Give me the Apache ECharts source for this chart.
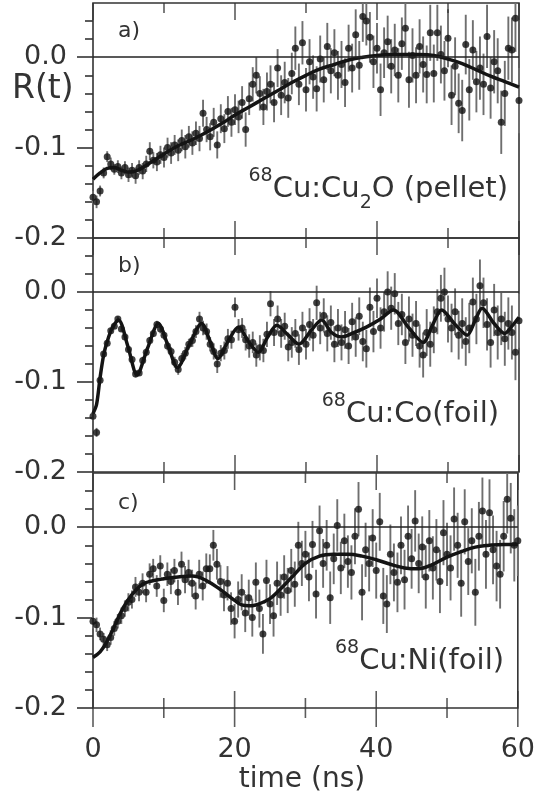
<!DOCTYPE html>
<html><head><meta charset="utf-8">
<script src="https://cdn.jsdelivr.net/npm/echarts@6/dist/echarts.min.js"></script>
<style>html,body{margin:0;padding:0;background:#fff}#c{width:538px;height:798px}</style>
</head><body><div id="c"></div>
<script>
// time axis (ns) of the data points
const times = [0,0.5,1,1.5,2,2.5,3,3.5,4,4.5,5,5.5,6,6.5,7,7.5,8,8.5,9,9.5,10,10.5,11,11.5,12,12.5,13,13.5,14,14.5,15,15.5,16,16.5,17,17.5,18,18.5,19,19.5,20,20.5,21,21.5,22,22.5,23,23.5,24,24.5,25,25.5,26,26.5,27,27.5,28,28.5,29,29.5,30,30.5,31,31.5,32,32.5,33,33.5,34,34.5,35,35.5,36,36.5,37,37.5,38,38.5,39,39.5,40,40.5,41,41.5,42,42.5,43,43.5,44,44.5,45,45.5,46,46.5,47,47.5,48,48.5,49,49.5,50,50.5,51,51.5,52,52.5,53,53.5,54,54.5,55,55.5,56,56.5,57,57.5,58,58.5,59,59.5,60];

// a) 68Cu:Cu2O (pellet)
const dataA = [-0.155,-0.160,-0.148,-0.128,-0.110,-0.118,-0.124,-0.121,-0.128,-0.122,-0.130,-0.125,-0.131,-0.122,-0.126,-0.118,-0.104,-0.114,-0.116,-0.108,-0.111,-0.100,-0.106,-0.097,-0.103,-0.092,-0.099,-0.088,-0.095,-0.084,-0.090,-0.062,-0.080,-0.088,-0.072,-0.097,-0.068,-0.079,-0.060,-0.072,-0.058,-0.066,-0.050,-0.080,-0.046,-0.030,-0.020,-0.040,-0.055,-0.038,-0.030,-0.050,-0.012,-0.042,-0.028,-0.045,-0.018,0.010,-0.030,0.016,-0.036,-0.005,-0.022,-0.035,-0.002,-0.025,0.012,-0.015,0.005,-0.020,-0.008,-0.028,0.010,-0.012,0.025,-0.009,0.045,0.040,0.022,-0.005,0.010,-0.036,0.005,0.017,-0.010,0.008,-0.020,0.015,0.032,-0.025,0.002,-0.020,0.012,-0.008,-0.019,0.027,-0.018,0.027,0.003,-0.015,0.021,-0.042,-0.010,-0.051,-0.059,0.014,-0.036,0.008,-0.027,-0.012,-0.030,0.023,-0.034,-0.005,-0.015,-0.072,-0.040,0.010,0.008,0.043,-0.048];
const errA = [0.007,0.007,0.006,0.006,0.006,0.007,0.006,0.007,0.007,0.007,0.008,0.008,0.009,0.008,0.009,0.009,0.010,0.009,0.010,0.010,0.011,0.011,0.012,0.011,0.012,0.012,0.013,0.012,0.013,0.013,0.014,0.015,0.014,0.015,0.016,0.015,0.016,0.016,0.017,0.016,0.017,0.018,0.018,0.019,0.018,0.019,0.020,0.019,0.020,0.021,0.021,0.022,0.021,0.022,0.023,0.022,0.023,0.024,0.023,0.024,0.024,0.025,0.024,0.025,0.026,0.025,0.026,0.025,0.026,0.027,0.026,0.027,0.026,0.027,0.028,0.027,0.028,0.027,0.028,0.029,0.028,0.029,0.028,0.029,0.030,0.029,0.030,0.029,0.030,0.031,0.030,0.031,0.030,0.031,0.032,0.031,0.032,0.031,0.032,0.033,0.032,0.033,0.032,0.033,0.034,0.033,0.034,0.033,0.034,0.035,0.034,0.035,0.034,0.035,0.036,0.035,0.036,0.035,0.036,0.037,0.036];
const fitA = [[0,-0.135],[1,-0.128],[2,-0.123],[3,-0.122],[4,-0.125],[5,-0.127],[6,-0.126],[7,-0.122],[8,-0.117],[9,-0.112],[10,-0.107],[12,-0.098],[14,-0.091],[16,-0.083],[18,-0.074],[20,-0.064],[22,-0.055],[24,-0.046],[26,-0.037],[28,-0.028],[30,-0.020],[32,-0.013],[34,-0.008],[36,-0.003],[38,0.000],[40,0.002],[42,0.003],[44,0.003],[46,0.003],[48,0.002],[50,-0.002],[52,-0.007],[54,-0.014],[56,-0.021],[58,-0.027],[60,-0.033]];

// b) 68Cu:Co(foil)
const dataB = [-0.138,-0.156,-0.098,-0.069,-0.057,-0.043,-0.038,-0.030,-0.041,-0.050,-0.064,-0.075,-0.091,-0.090,-0.076,-0.067,-0.054,-0.046,-0.036,-0.041,-0.048,-0.060,-0.066,-0.078,-0.086,-0.074,-0.068,-0.058,-0.054,-0.044,-0.030,-0.040,-0.044,-0.058,-0.066,-0.080,-0.068,-0.065,-0.052,-0.053,-0.017,-0.042,-0.040,-0.053,-0.060,-0.056,-0.070,-0.062,-0.065,-0.047,-0.013,-0.045,-0.030,-0.046,-0.038,-0.061,-0.056,-0.046,-0.064,-0.040,-0.058,-0.036,-0.048,-0.012,-0.040,-0.026,-0.046,-0.034,-0.058,-0.040,-0.056,-0.042,-0.060,-0.033,-0.050,-0.027,-0.055,-0.063,-0.017,-0.044,-0.007,-0.040,-0.022,0.000,-0.018,-0.002,-0.035,-0.025,-0.056,-0.030,-0.048,-0.035,-0.060,-0.070,-0.045,-0.058,-0.042,-0.022,-0.007,0.000,-0.030,-0.040,-0.022,-0.048,-0.035,-0.055,-0.040,-0.011,-0.030,0.007,-0.012,-0.036,-0.056,-0.020,-0.045,-0.030,-0.052,-0.035,-0.045,-0.067,-0.032];
const errB = [0.004,0.005,0.004,0.003,0.003,0.003,0.003,0.003,0.003,0.003,0.003,0.003,0.004,0.003,0.004,0.004,0.004,0.004,0.004,0.005,0.005,0.005,0.005,0.006,0.006,0.006,0.007,0.006,0.007,0.007,0.008,0.008,0.009,0.008,0.009,0.010,0.009,0.010,0.011,0.010,0.011,0.012,0.011,0.012,0.013,0.012,0.013,0.014,0.013,0.014,0.014,0.015,0.015,0.016,0.015,0.016,0.017,0.016,0.017,0.018,0.017,0.018,0.018,0.019,0.018,0.019,0.020,0.019,0.020,0.021,0.020,0.021,0.020,0.021,0.022,0.021,0.022,0.021,0.022,0.023,0.022,0.023,0.022,0.023,0.024,0.023,0.024,0.023,0.024,0.025,0.024,0.025,0.024,0.025,0.026,0.025,0.026,0.025,0.026,0.027,0.026,0.027,0.026,0.027,0.028,0.027,0.028,0.027,0.028,0.029,0.028,0.029,0.028,0.029,0.030,0.029,0.030,0.029,0.030,0.031,0.030];
const fitB = [[0,-0.135],[0.5,-0.125],[1,-0.095],[1.5,-0.070],[2,-0.055],[2.7,-0.040],[3.6,-0.031],[4.9,-0.060],[6.2,-0.092],[7.7,-0.062],[9.2,-0.035],[10.5,-0.058],[11.9,-0.084],[13.6,-0.058],[15.3,-0.035],[16.5,-0.055],[17.6,-0.074],[19,-0.055],[20.5,-0.039],[21.9,-0.055],[23.3,-0.067],[24.6,-0.050],[25.9,-0.037],[27.5,-0.048],[29,-0.058],[30.8,-0.042],[32.2,-0.031],[33.6,-0.045],[35,-0.050],[36.8,-0.045],[38.5,-0.039],[40.5,-0.030],[42.3,-0.020],[44.5,-0.040],[46.5,-0.056],[47.8,-0.037],[49.1,-0.020],[51,-0.036],[52.7,-0.048],[53.8,-0.032],[54.8,-0.018],[56.5,-0.035],[58,-0.046],[59,-0.038],[60,-0.028]];

// c) 68Cu:Ni(foil)
const dataC = [-0.104,-0.108,-0.118,-0.124,-0.130,-0.122,-0.112,-0.104,-0.098,-0.090,-0.083,-0.080,-0.066,-0.072,-0.062,-0.072,-0.052,-0.046,-0.065,-0.043,-0.081,-0.052,-0.060,-0.048,-0.072,-0.041,-0.058,-0.050,-0.062,-0.076,-0.052,-0.065,-0.046,-0.046,-0.020,-0.041,-0.060,-0.075,-0.062,-0.090,-0.104,-0.080,-0.072,-0.095,-0.078,-0.100,-0.061,-0.090,-0.118,-0.059,-0.085,-0.098,-0.062,-0.075,-0.055,-0.070,-0.048,-0.063,-0.020,-0.040,-0.030,-0.055,-0.019,-0.074,-0.004,-0.040,-0.020,-0.078,-0.035,0.002,-0.045,-0.015,-0.038,-0.050,-0.010,0.020,-0.072,-0.025,-0.040,-0.012,-0.048,0.006,-0.076,-0.085,-0.030,-0.050,-0.061,-0.020,-0.058,-0.010,-0.035,0.007,-0.040,-0.022,-0.055,-0.015,-0.045,-0.025,-0.060,-0.006,-0.030,-0.045,0.009,-0.020,-0.062,0.006,-0.038,-0.015,-0.072,-0.010,0.018,-0.030,0.016,-0.025,-0.043,-0.052,-0.010,0.031,0.010,-0.020,-0.015];
const errC = [0.008,0.008,0.007,0.007,0.007,0.008,0.008,0.008,0.009,0.009,0.010,0.010,0.011,0.010,0.011,0.011,0.012,0.011,0.012,0.012,0.013,0.013,0.014,0.013,0.014,0.014,0.015,0.014,0.015,0.015,0.016,0.016,0.017,0.016,0.017,0.017,0.018,0.018,0.019,0.018,0.019,0.020,0.020,0.021,0.020,0.021,0.022,0.021,0.022,0.023,0.022,0.023,0.024,0.023,0.024,0.025,0.024,0.025,0.026,0.025,0.026,0.027,0.026,0.027,0.028,0.027,0.028,0.029,0.028,0.029,0.029,0.030,0.029,0.030,0.031,0.030,0.031,0.030,0.031,0.032,0.031,0.032,0.031,0.032,0.033,0.032,0.033,0.032,0.033,0.034,0.033,0.034,0.033,0.034,0.035,0.034,0.035,0.034,0.035,0.036,0.035,0.036,0.035,0.036,0.037,0.036,0.037,0.036,0.037,0.038,0.037,0.038,0.037,0.038,0.039,0.038,0.039,0.038,0.039,0.040,0.039];
const fitC = [[0,-0.144],[1,-0.138],[2,-0.126],[3,-0.110],[4,-0.093],[5,-0.080],[6,-0.070],[7,-0.063],[8,-0.060],[10,-0.057],[12,-0.055],[14,-0.054],[16,-0.059],[18,-0.069],[20,-0.081],[21,-0.086],[22,-0.087],[23,-0.086],[24,-0.083],[25,-0.079],[26,-0.072],[28,-0.056],[30,-0.040],[32,-0.032],[34,-0.030],[36,-0.030],[38,-0.032],[40,-0.036],[42,-0.041],[44,-0.045],[46,-0.046],[48,-0.041],[50,-0.033],[52,-0.027],[54,-0.022],[56,-0.020],[58,-0.019],[60,-0.019]];

// ticks
const yMajorTicks = [-0.2, -0.1, 0];
const yMinorTicks = [-0.18,-0.16,-0.14,-0.12,-0.08,-0.06,-0.04,-0.02,0.02,0.04];
const xMajorTicks = [0, 20, 40, 60];
const xMinorTicks = [10, 30, 50];
const panelLabels = ['a)', 'b)', 'c)'];

const FONT = 'DejaVu Sans';
const INK = '#333';
const Y_MIN = -0.2, Y_MAX = 0.06;
const LEFT = 93, WIDTH = 426;
const panels = [
  {top: 3, height: 235, data: dataA, err: errA, fit: fitA, smooth: 0.4},
  {top: 238, height: 234, data: dataB, err: errB, fit: fitB, smooth: 0.3},
  {top: 473, height: 235, data: dataC, err: errC, fit: fitC, smooth: 0.4}
];

const grid = [], xAxis = [], yAxis = [], series = [];
const ts = () => ({color: INK, width: 1.6});

function addLayer(p, yCfg, xCfg) {
  const g = grid.length;
  grid.push({left: LEFT, width: WIDTH, top: p.top, height: p.height, show: false});
  const xi = xAxis.length;
  xAxis.push(Object.assign({type: 'value', gridIndex: g, min: 0, max: 60, position: 'bottom',
    axisLine: {show: false}, splitLine: {show: false}, axisLabel: {show: false}, axisTick: {show: false}}, xCfg || {}));
  const yi = yAxis.length;
  yAxis.push(Object.assign({type: 'value', gridIndex: g, min: Y_MIN, max: Y_MAX, position: 'left',
    axisLine: {show: false}, splitLine: {show: false}, axisLabel: {show: false}, axisTick: {show: false}}, yCfg || {}));
  return {g, xi, yi};
}

panels.forEach((p, i) => {
  const last = i === panels.length - 1;
  const main = addLayer(p,
    {axisTick: {show: true, inside: false, length: 16, customValues: yMajorTicks, lineStyle: ts()},
     axisLabel: {show: true, customValues: yMajorTicks, margin: 26, fontSize: 27, fontFamily: FONT, color: INK,
       formatter: v => (Math.abs(v) < 1e-9 ? 0 : v).toFixed(1)}},
    last ? {axisLabel: {show: true, customValues: xMajorTicks, margin: 28, fontSize: 27, fontFamily: FONT, color: INK}} : null);
  Object.assign(grid[main.g], {show: true, borderColor: INK, borderWidth: 1.6, backgroundColor: 'transparent'});
  addLayer(p, {axisTick: {show: true, inside: false, length: 8, customValues: yMinorTicks, lineStyle: ts()}});

  // error bars
  series.push({
    type: 'custom', xAxisIndex: main.xi, yAxisIndex: main.yi, silent: true, z: 1,
    data: times.map((t, k) => [t, p.data[k], p.err[k]]),
    renderItem: (params, api) => {
      const t = api.value(0), v = api.value(1), e = api.value(2);
      const lo = Math.max(v - e, Y_MIN), hi = Math.min(v + e, Y_MAX);
      const a = api.coord([t, lo]), b = api.coord([t, hi]);
      return {type: 'line', shape: {x1: a[0], y1: a[1], x2: b[0], y2: b[1]},
        style: {stroke: '#6f6f6f', lineWidth: 1.9}};
    }
  });
  series.push({
    type: 'scatter', xAxisIndex: main.xi, yAxisIndex: main.yi, silent: true, z: 2,
    symbolSize: 7, itemStyle: {color: '#111'},
    data: times.map((t, k) => [t, p.data[k]])
  });
  series.push({
    type: 'line', xAxisIndex: main.xi, yAxisIndex: main.yi, silent: true, z: 3,
    data: p.fit, smooth: p.smooth, showSymbol: false, symbol: 'none',
    lineStyle: {color: '#141414', width: 3.5},
    markLine: {silent: true, symbol: 'none', label: {show: false},
      lineStyle: {color: '#222', width: 1.6, type: 'solid'}, data: [{yAxis: 0}]}
  });

  // time-axis ticks on the panel edges, drawn as thin rectangular scatter symbols
  const tickMark = (vals, yEdge, len, offsetY) => series.push({
    type: 'scatter', xAxisIndex: main.xi, yAxisIndex: main.yi, silent: true, z: 9, clip: false,
    symbol: 'rect', symbolSize: [1.6, len], symbolOffset: [0, offsetY],
    itemStyle: {color: INK}, data: vals.map(t => [t, yEdge])
  });
  tickMark(xMajorTicks, Y_MAX, 17, 8.5);
  tickMark(xMinorTicks, Y_MAX, 10, 5);
  if (last) {
    tickMark(xMajorTicks, Y_MIN, 36, 1);
    tickMark(xMinorTicks, Y_MIN, 20, 0);
  } else {
    tickMark(xMajorTicks, Y_MIN, 17, -8.5);
    tickMark(xMinorTicks, Y_MIN, 10, -5);
  }
});

// text helpers
const mctx = document.createElement('canvas').getContext('2d');
const measure = (s, size) => { mctx.font = size + 'px "' + FONT + '"'; return mctx.measureText(s).width; };
const txt = (x, y, text, size, align) => ({type: 'text', x, y, silent: true, z: 50,
  style: {text, fontSize: size, fontFamily: FONT, fill: INK, align: align || 'left', verticalAlign: 'middle'}});
function annot(right, y, parts) {
  const size = {m: 29, sup: 19, sub: 19}, dy = {m: 0, sup: -13, sub: 14};
  const total = parts.reduce((s, q) => s + measure(q[1], size[q[0]]), 0);
  let x = right - total;
  return parts.map(q => { const el = txt(x, y + dy[q[0]], q[1], size[q[0]], 'left'); x += measure(q[1], size[q[0]]); return el; });
}

const graphic = [
  txt(12, 89, 'R(t)', 33, 'left'),
  txt(118, 31, panelLabels[0], 22, 'left'),
  txt(118, 266, panelLabels[1], 22, 'left'),
  txt(118, 503, panelLabels[2], 22, 'left'),
  txt(302, 780, 'time (ns)', 28, 'center')
].concat(
  annot(508, 189, [['sup', '68'], ['m', 'Cu:Cu'], ['sub', '2'], ['m', 'O (pellet)']]),
  annot(499, 414, [['sup', '68'], ['m', 'Cu:Co(foil)']]),
  annot(504, 661, [['sup', '68'], ['m', 'Cu:Ni(foil)']])
);

const chart = echarts.init(document.getElementById('c'), null, {renderer: 'canvas'});
chart.setOption({animation: false, backgroundColor: '#fff', grid, xAxis, yAxis, series, graphic});
</script></body></html>
